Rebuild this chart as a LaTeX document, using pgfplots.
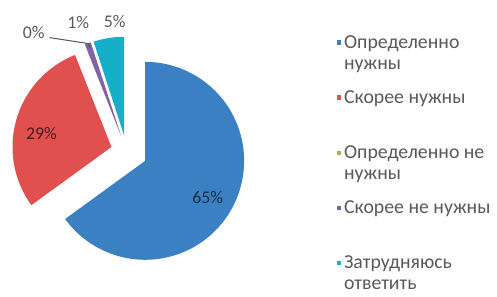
\documentclass[border=0pt]{standalone}
\usepackage{pgfplots}
\pgfplotsset{compat=1.18}
\usepackage{fontspec}
\setmainfont{Carlito}
\definecolor{cblue}{HTML}{3A80C3}
\definecolor{cred}{HTML}{E0504E}
\definecolor{cgreen}{HTML}{9BBB59}
\definecolor{cpurple}{HTML}{8064A2}
\definecolor{ccyan}{HTML}{17AFC8}
\definecolor{lgray}{HTML}{595959}
% data (percent)
\def\vA{65}\def\vB{29}\def\vC{0}\def\vD{1}\def\vE{5}
% geometry (pixel units)
\def\cx{128}\def\cy{139}\def\rr{100}
\newcommand{\prepslice}[4]{% name, lo, hi, explode
  \pgfmathsetmacro\tmpmid{(#2+#3)/2}%
  \pgfmathsetmacro\tmpox{\cx+#4*cos(\tmpmid)}%
  \pgfmathsetmacro\tmpoy{\cy+#4*sin(\tmpmid)}%
  \pgfmathsetmacro\tmpss{(#3-#2)/100}%
  \pgfmathsetmacro\tmphh{#3+\tmpss}%
  \pgfmathsetmacro\tmpth{#3+0.5*\tmpss}%
  \expandafter\xdef\csname #1ox\endcsname{\tmpox}%
  \expandafter\xdef\csname #1oy\endcsname{\tmpoy}%
  \expandafter\xdef\csname #1lo\endcsname{#2}%
  \expandafter\xdef\csname #1hi\endcsname{#3}%
  \expandafter\xdef\csname #1hh\endcsname{\tmphh}%
  \expandafter\xdef\csname #1th\endcsname{\tmpth}%
}
\newcommand{\drawslice}[2]{% name, color
  \addplot[fill=#2, draw=none, forget plot, domain=\csname #1lo\endcsname:\csname #1hh\endcsname, samples=102, variable=\t]
   ({\csname #1ox\endcsname + ((\t>\csname #1th\endcsname) ? 0 : \rr)*cos(min(\t,\csname #1hi\endcsname))},
    {\csname #1oy\endcsname + ((\t>\csname #1th\endcsname) ? 0 : \rr)*sin(min(\t,\csname #1hi\endcsname))});
}
\begin{document}
\begin{tikzpicture}
\pgfmathsetmacro\aA{90}
\pgfmathsetmacro\aB{\aA-3.6*\vA}
\pgfmathsetmacro\aC{\aB-3.6*\vB}
\pgfmathsetmacro\aD{\aC-3.6*\vC}
\pgfmathsetmacro\aE{\aD-3.6*\vD}
\pgfmathsetmacro\aF{\aE-3.6*\vE}
\prepslice{sA}{\aB}{\aA}{21}
\prepslice{sB}{\aC}{\aB}{16}
\prepslice{sD}{\aE}{\aD}{16}
\prepslice{sE}{\aF}{\aE}{16}
\begin{axis}[
  scale only axis, width=372.75pt, height=219pt,
  xmin=0, xmax=497, ymin=0, ymax=292,
  hide axis, clip=false,
  legend style={at={(axis cs:336,262)}, anchor=north west, draw=none, fill=none,
    font=\fontsize{15}{16}\selectfont, text=lgray, row sep=10.5pt,
    cells={anchor=west, align=left}},
  legend image code/.code={\fill[#1, draw=none] (0pt,6.1pt) rectangle (3.6pt,9.7pt);},
]
\path (rel axis cs:0,0) rectangle (rel axis cs:1,1);
\drawslice{sA}{cblue}
\drawslice{sB}{cred}
\drawslice{sD}{cpurple}
\drawslice{sE}{ccyan}
\addplot[lgray, line width=0.8pt, forget plot] coordinates {(50,254) (89,248) (91,244)};
\node[text=cblue!35!black, font=\fontsize{13.5}{15}\selectfont] at (axis cs:210,92) {65\%};
\node[text=cred!35!black, font=\fontsize{13.5}{15}\selectfont] at (axis cs:42,157) {29\%};
\node[text=lgray, font=\fontsize{13.5}{15}\selectfont] at (axis cs:34,259) {0\%};
\node[text=lgray, font=\fontsize{13.5}{15}\selectfont] at (axis cs:79,269) {1\%};
\node[text=lgray, font=\fontsize{13.5}{15}\selectfont] at (axis cs:116,270) {5\%};
\addlegendimage{fill=cblue}
\addlegendentry{Определенно\\нужны}
\addlegendimage{fill=cred}
\addlegendentry{Скорее нужны\\\mbox{}}
\addlegendimage{fill=cgreen}
\addlegendentry{Определенно не\\нужны}
\addlegendimage{fill=cpurple}
\addlegendentry{Скорее не нужны\\\mbox{}}
\addlegendimage{fill=ccyan}
\addlegendentry{Затрудняюсь\\ответить}
\end{axis}
\end{tikzpicture}
\end{document}
